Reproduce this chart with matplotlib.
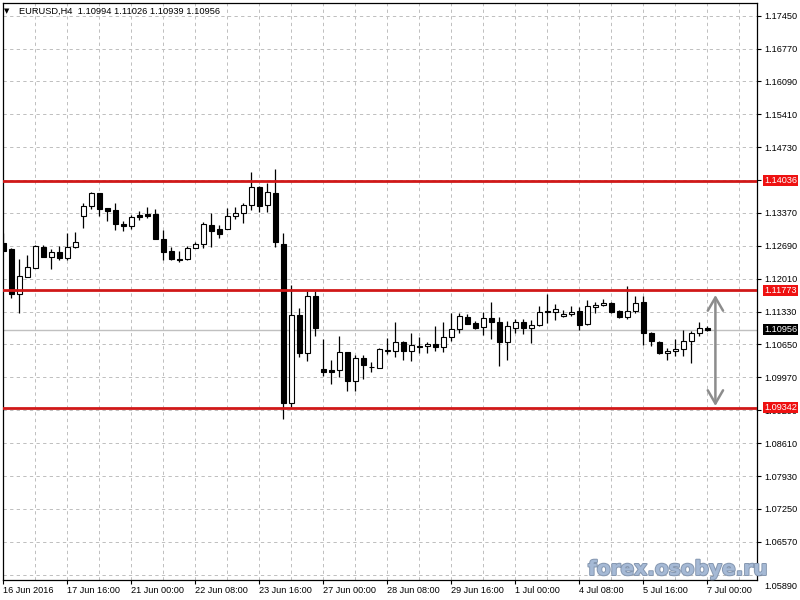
import matplotlib
matplotlib.use("Agg")
import matplotlib.pyplot as plt
import matplotlib.transforms as mtransforms
import matplotlib.patheffects as pe
import numpy as np

# EURUSD H4 candles, 16 Jun 2016 .. 7 Jul 2016
opens = [1.12742, 1.12618, 1.11687, 1.12039, 1.12238, 1.12659, 1.12453, 1.12556, 1.12445, 1.12659,
         1.13313, 1.13507, 1.13776, 1.13472, 1.13431, 1.13141, 1.13106, 1.13327, 1.13348, 1.13348,
         1.12824, 1.12583, 1.12418, 1.12411, 1.12639, 1.12721, 1.13114, 1.13038, 1.13031, 1.13300,
         1.13362, 1.13528, 1.13900, 1.13528, 1.13782, 1.12721, 1.09446, 1.11260, 1.10480, 1.11652,
         1.10143, 1.10122, 1.10116, 1.10488, 1.09901, 1.10364, 1.10191, 1.10170, 1.10521, 1.10509,
         1.10701, 1.10509, 1.10619, 1.10612, 1.10653, 1.10591, 1.10798, 1.10964, 1.11212, 1.11094,
         1.11011, 1.11191, 1.11108, 1.10707, 1.10984, 1.11108, 1.10984, 1.11046, 1.11342, 1.11328,
         1.11239, 1.11274, 1.11336, 1.11067, 1.11432, 1.11460, 1.11508, 1.11342, 1.11212, 1.11349,
         1.11522, 1.10881, 1.10701, 1.10474, 1.10509, 1.10557, 1.10715, 1.10894, 1.10994]
highs = [1.12955, 1.12645, 1.12418, 1.12500, 1.12707, 1.12707, 1.12618, 1.12686, 1.12961, 1.12982,
         1.13582, 1.13809, 1.13782, 1.13472, 1.13569, 1.13210, 1.13327, 1.13417, 1.13486, 1.13451,
         1.13011, 1.12659, 1.12589, 1.12686, 1.12763, 1.13182, 1.13375, 1.13121, 1.13478, 1.13493,
         1.13569, 1.14210, 1.13933, 1.13983, 1.14272, 1.12961, 1.11880, 1.11398, 1.11756, 1.11756,
         1.10753, 1.10329, 1.10826, 1.10495, 1.10432, 1.10432, 1.10288, 1.10577, 1.10784, 1.11115,
         1.10728, 1.10894, 1.10798, 1.10694, 1.11032, 1.11115, 1.11301, 1.11307, 1.11274, 1.11141,
         1.11328, 1.11528, 1.11224, 1.11135, 1.11177, 1.11171, 1.11150, 1.11443, 1.11687, 1.11487,
         1.11363, 1.11443, 1.11432, 1.11570, 1.11528, 1.11584, 1.11528, 1.11363, 1.11859, 1.11652,
         1.11659, 1.10915, 1.10722, 1.10571, 1.10770, 1.10949, 1.10929, 1.11115, 1.11026]
lows = [1.12573, 1.11601, 1.11295, 1.12035, 1.12230, 1.12459, 1.12217, 1.12397, 1.12397, 1.12655,
        1.13065, 1.13458, 1.13313, 1.13203, 1.13017, 1.13003, 1.13038, 1.13224, 1.13272, 1.12821,
        1.12397, 1.12407, 1.12349, 1.12407, 1.12635, 1.12639, 1.12672, 1.12858, 1.13028, 1.13238,
        1.13155, 1.13431, 1.13396, 1.13396, 1.12672, 1.09102, 1.09363, 1.10385, 1.10314, 1.10825,
        1.10008, 1.09826, 1.09983, 1.09694, 1.09694, 1.09930, 1.10081, 1.10164, 1.10453, 1.10398,
        1.10329, 1.10308, 1.10468, 1.10468, 1.10515, 1.10501, 1.10722, 1.10894, 1.11067, 1.10964,
        1.10839, 1.10757, 1.10211, 1.10329, 1.10878, 1.10860, 1.10686, 1.11032, 1.11088, 1.11156,
        1.11225, 1.11245, 1.10949, 1.11046, 1.11295, 1.11446, 1.11307, 1.11204, 1.11177, 1.11295,
        1.10639, 1.10619, 1.10453, 1.10329, 1.10412, 1.10418, 1.10273, 1.10826, 1.10939]
closes = [1.12590, 1.11687, 1.12060, 1.12246, 1.12686, 1.12465, 1.12556, 1.12445, 1.12659, 1.12769,
          1.13513, 1.13776, 1.13458, 1.13416, 1.13135, 1.13106, 1.13293, 1.13286, 1.13313, 1.12831,
          1.12569, 1.12411, 1.12397, 1.12639, 1.12721, 1.13135, 1.13003, 1.12941, 1.13300, 1.13362,
          1.13534, 1.13900, 1.13520, 1.13809, 1.12762, 1.09446, 1.11260, 1.10480, 1.11652, 1.10997,
          1.10087, 1.10081, 1.10488, 1.09901, 1.10364, 1.10232, 1.10178, 1.10557, 1.10542, 1.10701,
          1.10509, 1.10639, 1.10598, 1.10653, 1.10604, 1.10798, 1.10964, 1.11239, 1.11079, 1.10997,
          1.11191, 1.11108, 1.10707, 1.11038, 1.11108, 1.10984, 1.11046, 1.11315, 1.11315, 1.11377,
          1.11280, 1.11328, 1.11052, 1.11443, 1.11473, 1.11501, 1.11315, 1.11212, 1.11349, 1.11514,
          1.10881, 1.10729, 1.10480, 1.10515, 1.10557, 1.10715, 1.10881, 1.10984, 1.10956]

time_labels = ["16 Jun 2016", "17 Jun 16:00", "21 Jun 00:00", "22 Jun 08:00",
               "23 Jun 16:00", "27 Jun 00:00", "28 Jun 08:00", "29 Jun 16:00",
               "1 Jul 00:00", "4 Jul 08:00", "5 Jul 16:00", "7 Jul 00:00"]
price_ticks = [1.05890, 1.06570, 1.07250, 1.07930, 1.08610, 1.09290, 1.09970, 1.10650, 1.11330,
               1.12010, 1.12690, 1.13370, 1.14050, 1.14730, 1.15410, 1.16090, 1.16770, 1.17450]

levels = [1.14036, 1.11773, 1.09342]
last_price = 1.10956
arrow_top = 1.11673
arrow_bottom = 1.09378
title = "EURUSD,H4  1.10994 1.11026 1.10939 1.10956"

plt.rcParams['font.family'] = ['Liberation Sans', 'DejaVu Sans']

fig = plt.figure(figsize=(8, 6), dpi=100)
ax = fig.add_axes([3 / 800, 20 / 600, 754 / 800, 577 / 600])

o = np.array(opens)
h = np.array(highs)
l = np.array(lows)
c = np.array(closes)
x = np.arange(len(o))
up = c >= o

# wicks then bodies
ax.vlines(x, l, h, color='black', lw=0.9, zorder=2)
body_low = np.minimum(o, c)
body_h = np.maximum(np.abs(c - o), 0.00003)
ax.bar(x, body_h, bottom=body_low, width=0.6,
       color=np.where(up, 'white', 'black'), edgecolor='black', linewidth=0.8, zorder=2.5)

ax.axhline(last_price, color='#c0c0c0', lw=1, zorder=1.5)
for lv in levels:
    ax.axhline(lv, color='#d01818', lw=2, zorder=3)

ax.annotate('', xy=(89, arrow_top), xytext=(89, arrow_bottom),
            arrowprops=dict(arrowstyle='<->,head_length=0.95,head_width=0.55',
                            color='#8c8c8c', lw=1.8, shrinkA=0, shrinkB=0), zorder=3)

ax.set_xlim(-0.05, 94.2)
ax.set_ylim(1.05780, 1.17711)

ax.set_xticks(np.arange(0, len(o), 8))
ax.set_xticklabels(time_labels, ha='left', fontsize=6.6)
ax.set_xticks(np.arange(0, 95, 4), minor=True)
ax.tick_params(axis='x', which='major', length=3, width=0.8, pad=1.5, direction='out')
ax.tick_params(axis='x', which='minor', length=0)

ax.yaxis.tick_right()
ax.set_yticks(price_ticks)
ax.set_yticklabels(["%.5f" % p for p in price_ticks], fontsize=6.6)
ax.tick_params(axis='y', length=3, width=0.8, pad=2, direction='out')

# the lowest price label sits a little below its grid line, as in the terminal
low_lab = ax.yaxis.get_major_ticks()[0].label2
low_lab.set_transform(low_lab.get_transform() +
                      mtransforms.ScaledTranslation(0, -0.11, fig.dpi_scale_trans))

grid_kw = dict(color='#c0c0c0', lw=0.72, ls=(0, (3.3, 3.3)))
ax.grid(True, axis='x', which='both', **grid_kw)
ax.grid(True, axis='y', which='major', **grid_kw)
ax.set_axisbelow(True)

for s in ax.spines.values():
    s.set_color('black')
    s.set_linewidth(0.9)

trans = mtransforms.blended_transform_factory(ax.transAxes, ax.transData)
for lv in levels:
    ax.text(1.0093, lv, "%.5f" % lv, transform=trans, color='white', fontsize=6.6,
            va='center', ha='left', zorder=5, clip_on=False,
            bbox=dict(boxstyle='square,pad=0.12', fc='#ee1111', ec='none'))
ax.text(1.0093, last_price, "%.5f" % last_price, transform=trans, color='white', fontsize=6.6,
        va='center', ha='left', zorder=5, clip_on=False,
        bbox=dict(boxstyle='square,pad=0.12', fc='black', ec='none'))

fig.text(7 / 800, 1 - 11 / 600, '\u25bc', fontsize=5, ha='center', va='center',
         family=['DejaVu Sans'])
fig.text(19 / 800, 1 - 11 / 600, title, fontsize=6.7, ha='left', va='center')

fig.text(588 / 800, 1 - 575 / 600, 'forex.osobye.ru', fontsize=14.5, fontweight='bold',
         family=['DejaVu Sans'], color='#a5b9d5', ha='left', va='baseline', zorder=10,
         path_effects=[pe.withStroke(linewidth=1.4, foreground='#8597b0')])

fig.savefig('out.png', dpi=100)
